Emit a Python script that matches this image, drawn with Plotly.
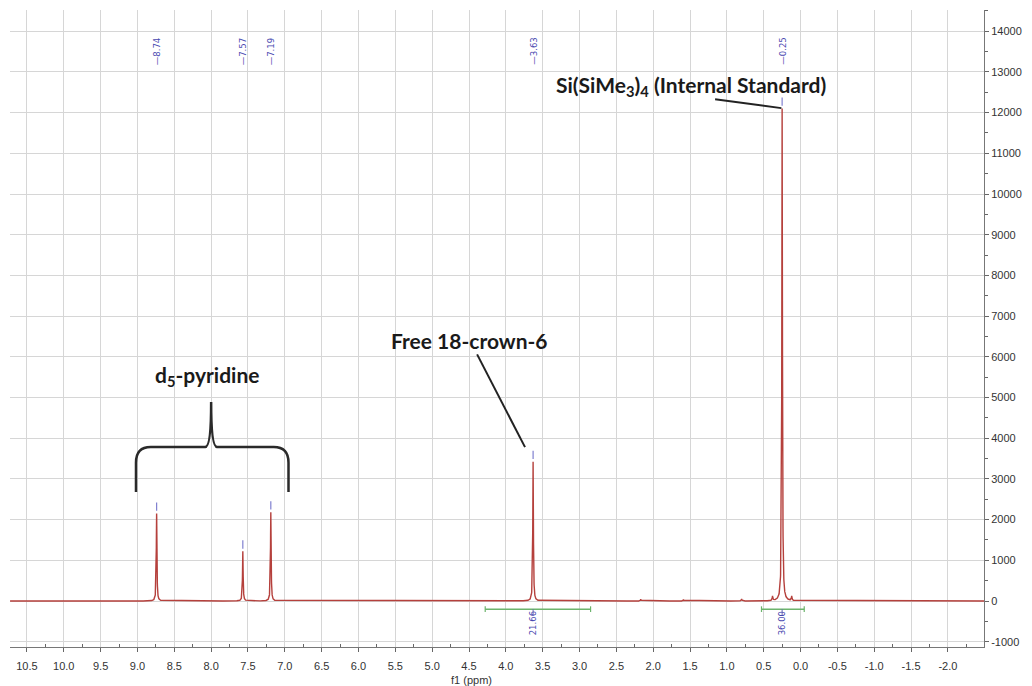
import numpy as np
import plotly.graph_objects as go

# 1H NMR peak table (ppm, intensity)
peak_ppm = [8.74, 7.57, 7.19, 3.63, 0.25]
peak_height = [2150, 1220, 2180, 3420, 12100]
peak_labels = ["8.74", "7.57", "7.19", "3.63", "0.25"]

# small satellite / impurity signals
minor_ppm = [0.38, 0.12, 2.17, 1.59, 0.80]
minor_height = [110, 110, 45, 35, 50]
half_width = 0.005  # Lorentzian HWHM in ppm

# integrals
integral_from = [4.28, 0.53]
integral_to = [2.85, -0.05]
integral_center = [3.63, 0.25]
integral_labels = ["21.66", "36.00"]

x_tick_vals = [10.5, 10.0, 9.5, 9.0, 8.5, 8.0, 7.5, 7.0, 6.5, 6.0, 5.5, 5.0, 4.5, 4.0,
               3.5, 3.0, 2.5, 2.0, 1.5, 1.0, 0.5, 0.0, -0.5, -1.0, -1.5, -2.0]
x_tick_text = ["10.5", "10.0", "9.5", "9.0", "8.5", "8.0", "7.5", "7.0", "6.5", "6.0", "5.5",
               "5.0", "4.5", "4.0", "3.5", "3.0", "2.5", "2.0", "1.5", "1.0", "0.5", "0.0",
               "-0.5", "-1.0", "-1.5", "-2.0"]
y_tick_vals = [-1000, 0, 1000, 2000, 3000, 4000, 5000, 6000, 7000, 8000, 9000, 10000,
               11000, 12000, 13000, 14000]
y_tick_text = ["-1000", "0", "1000", "2000", "3000", "4000", "5000", "6000", "7000", "8000",
               "9000", "10000", "11000", "12000", "13000", "14000"]

X_RANGE = [10.73, -2.49]
Y_RANGE = [-1130, 14521]

# spectrum as a sum of Lorentzian lines
all_c = peak_ppm + minor_ppm
all_h = peak_height + minor_height
x = np.concatenate([np.arange(X_RANGE[1], X_RANGE[0], 0.001), np.array(all_c)])
x = np.sort(x)
y = np.zeros_like(x)
for c, h in zip(all_c, all_h):
    y += h * half_width**2 / ((x - c) ** 2 + half_width**2)

fig = go.Figure()
fig.add_trace(go.Scatter(x=x, y=y, mode="lines",
                         line=dict(color="#b5403c", width=1.4),
                         hoverinfo="skip", showlegend=False))

# peak-pick markers above each apex
fig.add_trace(go.Scatter(x=peak_ppm, y=[h + 170 for h in peak_height], mode="markers",
                         marker=dict(symbol="line-ns", size=6,
                                     line=dict(color="#8080d0", width=1.2)),
                         hoverinfo="skip", showlegend=False))

annotations = []
shapes = []

# peak labels along the top
for p, lab in zip(peak_ppm, peak_labels):
    annotations.append(dict(x=p, y=13500, xref="x", yref="y", text="\u2014" + lab,
                            textangle=-90, showarrow=False,
                            font=dict(family="DejaVu Sans", size=8.5, color="#4848b0")))

# integral bars
bar_y = -200
for a, b, c, lab in zip(integral_from, integral_to, integral_center, integral_labels):
    shapes.append(dict(type="line", xref="x", yref="y", x0=a, x1=b, y0=bar_y, y1=bar_y,
                       line=dict(color="#6cb46c", width=1.5)))
    for e in (a, b):
        shapes.append(dict(type="line", xref="x", yref="y", x0=e, x1=e,
                           y0=bar_y - 70, y1=bar_y + 70,
                           line=dict(color="#6cb46c", width=1.2)))
    shapes.append(dict(type="line", xref="x", yref="y", x0=c, x1=c,
                       y0=bar_y, y1=bar_y - 150, line=dict(color="#6a6ab8", width=1)))
    annotations.append(dict(x=c, y=-545, xref="x", yref="y", text=lab, textangle=-90,
                            showarrow=False,
                            font=dict(family="DejaVu Sans", size=8.5, color="#4848b0")))

label_font = dict(family="Lato", size=21, color="#1a1a1a")

# internal standard callout
std_ppm, std_h = peak_ppm[4], peak_height[4]
annotations.append(dict(x=1.49, y=12650, xref="x", yref="y",
                        text="<b>Si(SiMe<sub>3</sub>)<sub>4</sub> (Internal Standard)</b>",
                        showarrow=False, font=label_font))
shapes.append(dict(type="line", xref="x", yref="y", x0=1.16, y0=12330,
                   x1=std_ppm + 0.01, y1=std_h + 10, line=dict(color="#222222", width=2)))

# crown ether callout
crown_ppm, crown_h = peak_ppm[3], peak_height[3]
annotations.append(dict(x=4.50, y=6413, xref="x", yref="y", text="<b>Free 18-crown-6</b>",
                        showarrow=False, font=label_font))
shapes.append(dict(type="line", xref="x", yref="y", x0=4.39, y0=6060,
                   x1=crown_ppm + 0.11, y1=crown_h + 360, line=dict(color="#222222", width=2)))

# solvent brace
bl, br, bc = 9.02, 6.95, 8.0
b_base, b_mid, b_top = 2680, 3784, 4890
brace = (f"M {bl},{b_base} L {bl},3400 Q {bl},{b_mid} {bl - 0.2},{b_mid} "
         f"L {bc + 0.08},{b_mid} Q {bc},{b_mid} {bc},{b_top} "
         f"Q {bc},{b_mid} {bc - 0.08},{b_mid} L {br + 0.2},{b_mid} "
         f"Q {br},{b_mid} {br},3400 L {br},{b_base}")
shapes.append(dict(type="path", xref="x", yref="y", path=brace,
                   line=dict(color="#2a2a2a", width=2.5)))
annotations.append(dict(x=8.05, y=5530, xref="x", yref="y",
                        text="<b>d<sub>5</sub>-pyridine</b>", showarrow=False, font=label_font))

# axis title
annotations.append(dict(x=4.46, y=0, xref="x", yref="paper", yshift=-33, text="f1 (ppm)",
                        showarrow=False, yanchor="middle",
                        font=dict(family="Liberation Sans", size=11, color="#333333")))

minor_x = [v + 0.25 for v in x_tick_vals] + [-2.25]
minor_y = [v + 500 for v in y_tick_vals]

fig.update_layout(
    width=1032, height=686,
    margin=dict(l=10, r=46, t=10, b=39),
    paper_bgcolor="white", plot_bgcolor="white",
    annotations=annotations, shapes=shapes,
    xaxis=dict(range=X_RANGE, tickmode="array", tickvals=x_tick_vals, ticktext=x_tick_text,
               ticks="outside", ticklen=4, tickcolor="#666666", showline=True,
               linecolor="#777777", linewidth=1, showgrid=True, gridcolor="#d6d6d6",
               zeroline=False, ticklabelstandoff=5,
               tickfont=dict(family="Liberation Sans", size=11, color="#333333"),
               minor=dict(tickmode="array", tickvals=minor_x, ticks="inside", ticklen=3,
                          tickcolor="#666666", showgrid=False)),
    yaxis=dict(range=Y_RANGE, side="right", tickmode="array", tickvals=y_tick_vals,
               ticktext=y_tick_text, ticks="outside", ticklen=4, tickcolor="#666666",
               showline=True, linecolor="#777777", linewidth=1, showgrid=True,
               gridcolor="#d6d6d6", zeroline=False,
               tickfont=dict(family="Liberation Sans", size=11, color="#333333"),
               minor=dict(tickmode="array", tickvals=minor_y, ticks="outside", ticklen=3,
                          tickcolor="#666666", showgrid=False)),
)

fig.write_html("out.html")
